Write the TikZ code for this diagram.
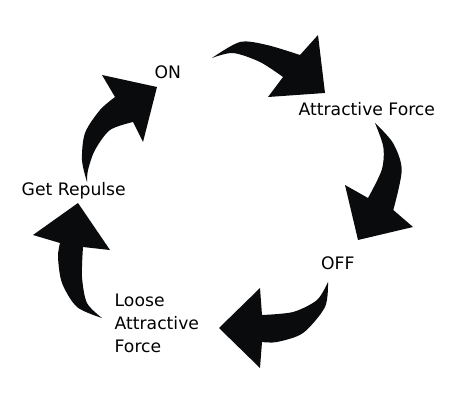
\documentclass[tikz,border=0pt]{standalone}
\usepackage{fontspec}
\setmainfont{DejaVu Sans}
\usepackage{tikz}
\usetikzlibrary{positioning}
\definecolor{ink}{HTML}{0A0B0D}

\begin{document}
\begin{tikzpicture}[x=1pt,y=-1pt,
    blockarrow/.style={fill=ink},
    state/.style={inner sep=0pt,anchor=base west,font=\fontsize{17.2}{23}\selectfont,align=left}]
  \useasboundingbox (0,0) rectangle (449,406);
  % states
  \node[state] (on) at (154.5,78.3) {ON};
  \node[state] (attract) at (298.5,115.7) {Attractive Force};
  \node[state] (off) at (321,269) {OFF};
  \node[state,anchor=north west] (loose) at (114.5,294) {Loose\\Attractive\\Force};
  \node[state] (repulse) at (21.5,195.7) {Get Repulse};
  % curved block arrows
  \fill[blockarrow] plot[smooth] coordinates {(212,58) (233,53) (260,62) (283,77)}
    -- (268,97) -- (325,93) -- (318,35)
    -- plot[smooth] coordinates {(300,55) (267,45) (240,42) (212,58)} -- cycle;
  \fill[blockarrow] plot[smooth] coordinates {(375,123) (393,143) (401.7,170) (393.3,210)}
    -- (413,227) -- (358,240) -- (345,185)
    -- plot[smooth] coordinates {(368,198) (381.7,170) (383.3,147) (375,123)} -- cycle;
  \fill[blockarrow] plot[smooth] coordinates {(328,282) (325,307) (303,333) (277,342) (262,342)}
    -- (260,368) -- (219,328) -- (260,288)
    -- plot[smooth] coordinates {(262,315) (293,312) (317,300) (328,282)} -- cycle;
  \fill[blockarrow] plot[smooth] coordinates {(102,318) (77,307) (62,283) (58,257) (60,243)}
    -- (33,235) -- (78,203) -- (110,250)
    -- plot[smooth] coordinates {(83,247) (82,277) (87,303) (102,318)} -- cycle;
  \fill[blockarrow] plot[smooth] coordinates {(87,182) (82,160) (85,133) (100,110) (115,97)}
    -- (102,75) -- (157,87) -- (143,142)
    -- plot[smooth] coordinates {(133,122) (110,130) (95,150) (88,170) (87,182)} -- cycle;
\end{tikzpicture}
\end{document}
